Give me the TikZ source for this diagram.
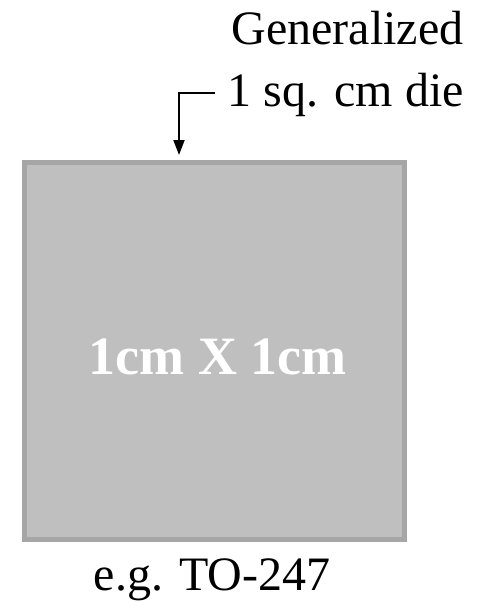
\documentclass[tikz,border=0pt]{standalone}
\usepackage{fontspec}
\setmainfont{Liberation Serif}
\usetikzlibrary{arrows.meta}
\definecolor{diefill}{HTML}{BFBFBF}
\definecolor{dieedge}{HTML}{A6A6A6}
\begin{document}
\begin{tikzpicture}[x=1pt,y=-1pt,
  lbl/.style={inner sep=0pt, font=\fontsize{48}{58}\selectfont},
  die/.style={draw=dieedge, fill=diefill, line width=5pt, minimum width=380pt, minimum height=377pt, inner sep=0pt},
  dimlbl/.style={inner sep=0pt, text=white, font=\fontsize{54}{64}\selectfont\bfseries},
  pointer/.style={line width=2pt, -{Triangle[length=15pt,width=11pt]}}]
\useasboundingbox (0,0) rectangle (488,602);
\node[die] (box) at (214.5,351) {};
\node[dimlbl, anchor=base] (dim) at (217.5,374) {1cm X 1cm};
\node[lbl, anchor=base east] (gen) at (463.5,45) {Generalized};
\node[lbl, anchor=base east] (sq) at (464,106) {1 sq. cm die};
\node[lbl, anchor=base] (pkg) at (212,590) {e.g. TO-247};
\coordinate (start) at (215,93);
\coordinate (tip) at (179,155);
\draw[pointer] (start) -| (tip);
\end{tikzpicture}
\end{document}
